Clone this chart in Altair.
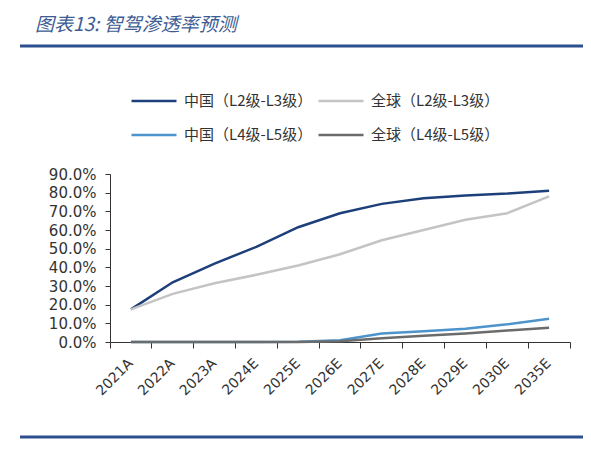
import altair as alt
import pandas as pd

# ---------------------------------------------------------
# Data (in %)
# ---------------------------------------------------------
years = ["2021A", "2022A", "2023A", "2024E", "2025E", "2026E",
         "2027E", "2028E", "2029E", "2030E", "2035E"]

china_l2_l3 = [17.5, 32.0, 42.0, 51.0, 61.5, 69.0, 74.0, 77.0, 78.5, 79.5, 81.0]
global_l2_l3 = [17.5, 25.8, 31.5, 36.0, 41.0, 47.0, 54.5, 60.0, 65.5, 69.0, 78.0]
china_l4_l5 = [0.0, 0.0, 0.0, 0.0, 0.2, 1.0, 4.5, 5.8, 7.1, 9.5, 12.5]
global_l4_l5 = [0.0, 0.0, 0.0, 0.0, 0.0, 0.4, 2.0, 3.4, 4.6, 6.2, 7.6]

# legend fills column by column, so China first, then global
series_names = ["中国（L2级-L3级）", "中国（L4级-L5级）",
                "全球（L2级-L3级）", "全球（L4级-L5级）"]
series_values = [china_l2_l3, china_l4_l5, global_l2_l3, global_l4_l5]
series_colors = ["#1d3f7a", "#4d93cc", "#c4c4c4", "#6b6b6b"]
y_ticks = [0, 10, 20, 30, 40, 50, 60, 70, 80, 90]

title_text = "图表13:  智驾渗透率预测"
frame_color = "#2c4f8f"

rows = []
for name, vals in zip(series_names, series_values):
    for yr, v in zip(years, vals):
        rows.append({"year": yr, "series": name, "rate": v / 100})
df = pd.DataFrame(rows)

# ---------------------------------------------------------
# Lines
# ---------------------------------------------------------
lines = (
    alt.Chart(df)
    .mark_line(strokeWidth=2.5)
    .encode(
        x=alt.X(
            "year:N",
            sort=years,
            bandPosition=0.5,
            scale=alt.Scale(type="band", paddingInner=0, paddingOuter=0),
            axis=alt.Axis(
                title=None,
                labelAngle=-45,
                labelFont="DejaVu Sans",
                labelFontSize=14,
                labelColor="#333333",
                domainColor="#333333",
                tickColor="#333333",
                tickSize=6,
                bandPosition=1,
                tickExtra=True,
                labelOffset=-5,
                labelPadding=8,
            ),
        ),
        y=alt.Y(
            "rate:Q",
            scale=alt.Scale(domain=[0, 0.9], nice=False),
            axis=alt.Axis(
                title=None,
                values=[t / 100 for t in y_ticks],
                format=".1%",
                grid=False,
                labelFont="DejaVu Sans",
                labelFontSize=15,
                labelColor="#333333",
                domainColor="#333333",
                tickColor="#333333",
                tickSize=5,
                labelPadding=9,
            ),
        ),
        color=alt.Color(
            "series:N",
            sort=None,
            scale=alt.Scale(domain=series_names, range=series_colors),
            legend=alt.Legend(
                title=None,
                orient="none",
                legendX=50,
                legendY=-82,
                columns=2,
                # long flat stroke that reaches left of its 15px slot
                symbolType="M-5,0H1",
                symbolSize=225,
                symbolStrokeWidth=2.5,
                labelFont="Noto Sans CJK SC",
                labelFontSize=15,
                labelColor="#333333",
                labelOffset=6,
                columnPadding=0,
                rowPadding=17,
            ),
        ),
    )
)

# ---------------------------------------------------------
# Frame: title text and the two blue rules
# ---------------------------------------------------------
title = (
    alt.Chart(pd.DataFrame({"t": [title_text]}))
    .mark_text(align="left", baseline="middle", font="Noto Sans CJK SC",
               fontSize=19, fontStyle="italic", color="#3d5c94")
    .encode(text="t:N", x=alt.value(-75), y=alt.value(-149))
)

top_rule = (
    alt.Chart(pd.DataFrame({"k": [0]}))
    .mark_rule(color=frame_color, strokeWidth=3)
    .encode(x=alt.value(-90), x2=alt.value(476), y=alt.value(-128))
)

bottom_rule = (
    alt.Chart(pd.DataFrame({"k": [0]}))
    .mark_rule(color=frame_color, strokeWidth=3)
    .encode(x=alt.value(-90), x2=alt.value(476), y=alt.value(263))
)

chart = (
    alt.layer(lines, title, top_rule, bottom_rule)
    .properties(
        width=460,
        height=168,
        autosize=alt.AutoSizeParams(type="none"),
        padding={"left": 102, "top": 166, "right": 13, "bottom": 99},
        background="white",
    )
    .configure_view(stroke=None)
)

chart.save("out.html", embed_options={"renderer": "svg", "actions": False})
